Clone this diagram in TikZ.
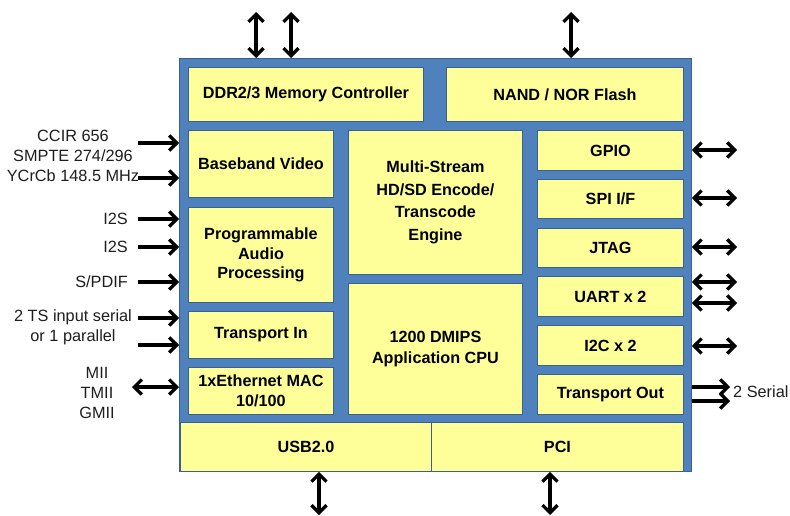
\documentclass[tikz,border=0pt]{standalone}
\usepackage{fontspec}
\setmainfont{Liberation Sans}
\usetikzlibrary{arrows.meta}
\definecolor{frameblue}{RGB}{79,129,189}
\definecolor{edgeblue}{RGB}{58,96,142}
\definecolor{blockyellow}{RGB}{255,255,153}
\definecolor{labelgray}{RGB}{30,30,30}

\begin{document}
\begin{tikzpicture}[x=1pt,y=-1pt,
  blk/.style={draw=edgeblue, line width=0.9pt, fill=blockyellow, inner sep=0pt,
    anchor=north west, align=center, text=black,
    font=\fontsize{16.2}{20}\selectfont\bfseries},
  sig/.style={inner sep=0pt, align=center, text=labelgray,
    font=\fontsize{16.3}{20.3}\selectfont},
  tipb/.tip={Straight Barb[length=7.5pt,width=15pt]},
  bus/.style={line width=3.2pt, tipb-tipb},
  feed/.style={line width=3.2pt, -tipb},
]
% page
\fill[white] (0,0) rectangle (790,516);
\useasboundingbox (0,0) rectangle (790,516);

% chip outline
\node[draw=edgeblue, line width=0.9pt, fill=frameblue, inner sep=0pt,
  anchor=north west, minimum width=512pt, minimum height=413pt] (frame) at (179,58) {};

% top row
\node[blk, minimum width=235pt, minimum height=54pt] (ddr) at (188,67) {DDR2/3 Memory Controller};
\node[blk, minimum width=237pt, minimum height=54pt] (nand) at (446,67) {NAND / NOR Flash};

% left column
\node[blk, minimum width=145pt, minimum height=67pt] (bbv) at (188,130) {Baseband Video};
\node[blk, minimum width=145pt, minimum height=95pt, font=\fontsize{16.2}{19.5}\selectfont\bfseries] (audio) at (188,207) {Programmable\\Audio\\Processing};
\node[blk, minimum width=145pt, minimum height=47pt] (tin) at (188,311) {Transport In};
\node[blk, minimum width=145pt, minimum height=47pt] (eth) at (188,367) {1xEthernet MAC\\10/100};

% centre column
\node[blk, minimum width=174pt, minimum height=144pt, font=\fontsize{16.2}{22.5}\selectfont\bfseries] (enc) at (348,130) {Multi-Stream\\HD/SD Encode/\\Transcode\\Engine};
\node[blk, minimum width=174pt, minimum height=131pt, font=\fontsize{16.2}{21}\selectfont\bfseries] (cpu) at (348,283) {1200 DMIPS\\Application CPU};

% right column
\node[blk, minimum width=146pt, minimum height=40pt] (gpio) at (537,130) {GPIO};
\node[blk, minimum width=146pt, minimum height=39pt] (spi) at (537,179) {SPI I/F};
\node[blk, minimum width=146pt, minimum height=39pt] (jtag) at (537,228) {JTAG};
\node[blk, minimum width=146pt, minimum height=40pt] (uart) at (537,276) {UART x 2};
\node[blk, minimum width=146pt, minimum height=40pt] (i2c) at (537,325) {I2C x 2};
\node[blk, minimum width=146pt, minimum height=40pt] (tout) at (537,374) {Transport Out};

% bottom row
\node[blk, minimum width=251pt, minimum height=49pt] (usb) at (180,422) {USB2.0};
\node[blk, minimum width=252pt, minimum height=49pt] (pci) at (431,422) {PCI};

% signal labels
\node[sig] (vidlbl) at (73,156) {CCIR 656\\SMPTE 274/296\\YCrCb 148.5 MHz};
\node[sig, anchor=east] (i2sa) at (128,219) {I2S};
\node[sig, anchor=east] (i2sb) at (128,247) {I2S};
\node[sig, anchor=east] (spdif) at (128,282) {S/PDIF};
\node[sig, font=\fontsize{16.3}{19.5}\selectfont] (tslbl) at (73,327.5) {2 TS input serial\\or 1 parallel};
\node[sig, font=\fontsize{16.3}{20}\selectfont] (miilbl) at (97,393) {MII\\TMII\\GMII};
\node[sig, anchor=west] (serial) at (733,392) {2 Serial};

% free ends of the connectors
\coordinate (u1) at (256,12);
\coordinate (u2) at (291,12);
\coordinate (u3) at (571,12);
\coordinate (d1) at (319,515);
\coordinate (d2) at (550,515);
\coordinate (v1) at (138,143);
\coordinate (v2) at (138,178);
\coordinate (a1) at (138,219);
\coordinate (a2) at (138,247);
\coordinate (a3) at (138,282);
\coordinate (s1) at (138,318);
\coordinate (s2) at (138,345);
\coordinate (m1) at (132,387);
\coordinate (r1) at (737,150);
\coordinate (r2) at (737,198);
\coordinate (r3) at (737,247);
\coordinate (r4) at (737,282);
\coordinate (r5) at (737,303);
\coordinate (r6) at (737,346);
\coordinate (o1) at (730,387);
\coordinate (o2) at (730,401);

% memory, flash and host buses
\draw[bus] (u1) -- (u1 |- frame.north);
\draw[bus] (u2) -- (u2 |- frame.north);
\draw[bus] (u3) -- (u3 |- frame.north);
\draw[bus] (d1 |- frame.south) -- (d1);
\draw[bus] (d2 |- frame.south) -- (d2);

% inputs on the left
\foreach \c in {v1,v2,a1,a2,a3,s1,s2}
  \draw[feed] (\c) -- (\c -| frame.west);
\draw[bus] (m1) -- (m1 -| frame.west);

% peripherals on the right
\foreach \c in {r1,r2,r3,r4,r5,r6}
  \draw[bus] (\c -| frame.east) -- (\c);
\foreach \c in {o1,o2}
  \draw[feed] (\c -| frame.east) -- (\c);
\end{tikzpicture}
\end{document}
